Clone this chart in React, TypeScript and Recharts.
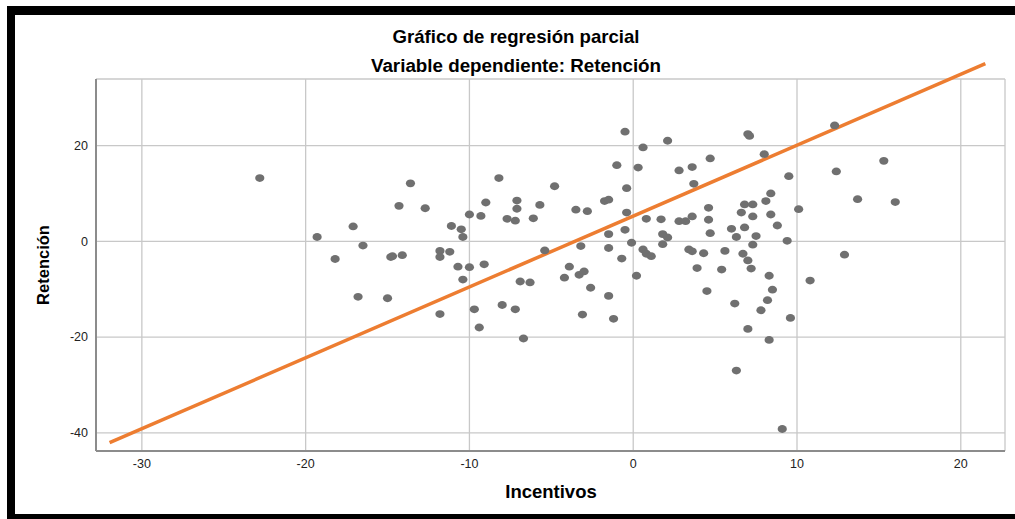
import { ScatterChart, Scatter, XAxis, YAxis, CartesianGrid, ReferenceLine } from 'recharts';

// Incentivos (x) and Retención (y) partial residuals
const incentivos = [
  -22.8, -19.3, -17.1, -16.5, -18.2, -14.8, -16.8, -15.0, -13.6, -14.3,
  -12.7, -11.1, -10.5, -10.4, -10.0, -9.3, -9.0, -8.2, -7.7, -7.2,
  -7.1, -7.1, -6.1, -5.7, -4.8, -3.5, -2.8, -1.75, -1.5, -1.0,
  -0.5, -0.4, -0.4, -0.5, -1.5, -0.1, 0.6, 0.3, 2.1, 2.8,
  0.8, 1.7, 2.8, 1.8, 2.1, 1.8, -0.7, -1.5, -3.2, -5.4,
  0.6, 0.8, 1.1, -14.7, -14.1, -11.8, -11.2, -11.8, -10.7, -10.0,
  -9.1, -10.4, -11.8, -9.7, -9.4, -8.0, -7.2, -6.7, -6.9, -6.3,
  -3.9, -4.2, -3.3, -3.0, -2.6, -3.1, -1.5, -1.2, 0.2, 7.0,
  7.1, 12.3, 8.0, 4.7, 15.3, 12.4, 3.6, 3.7, 9.5, 13.7,
  16.0, 8.4, 8.1, 6.8, 7.3, 4.6, 6.6, 7.3, 8.4, 10.1,
  3.2, 3.6, 4.6, 8.8, 4.7, 6.0, 6.8, 6.3, 7.5, 9.4,
  7.3, 3.4, 3.6, 4.3, 5.6, 6.7, 7.0, 12.9, 3.9, 5.4,
  7.2, 8.3, 10.8, 4.5, 8.5, 8.2, 6.2, 7.8, 9.6, 7.0,
  8.3, 6.3, 9.1,
];

const retencion = [
  13.2, 0.9, 3.1, -0.9, -3.7, -3.3, -11.6, -11.9, 12.1, 7.4,
  6.9, 3.2, 2.5, 0.9, 5.6, 5.3, 8.1, 13.2, 4.7, 4.3,
  8.5, 6.8, 4.8, 7.6, 11.5, 6.6, 6.3, 8.4, 8.7, 15.9,
  22.9, 11.1, 6.0, 2.4, 1.5, -0.3, 19.6, 15.4, 21.0, 14.8,
  4.7, 4.6, 4.2, 1.5, 0.8, -0.6, -3.6, -1.4, -1.0, -1.9,
  -1.7, -2.6, -3.1, -3.1, -2.9, -2.0, -2.2, -3.3, -5.3, -5.4,
  -4.8, -8.0, -15.2, -14.2, -18.0, -13.3, -14.2, -20.3, -8.4, -8.6,
  -5.3, -7.6, -7.0, -6.3, -9.7, -15.3, -11.4, -16.2, -7.2, 22.4,
  22.0, 24.2, 18.2, 17.3, 16.8, 14.6, 15.5, 12.0, 13.6, 8.8,
  8.2, 10.0, 8.4, 7.7, 7.7, 7.0, 6.0, 5.2, 5.6, 6.7,
  4.2, 5.2, 4.5, 3.3, 1.7, 2.6, 2.9, 0.9, 1.1, 0.1,
  -0.7, -1.7, -2.1, -2.5, -2.0, -2.6, -4.0, -2.8, -5.6, -5.9,
  -5.7, -7.2, -8.2, -10.4, -10.1, -12.3, -13.0, -14.4, -16.0, -18.3,
  -20.6, -27.0, -39.2,
];

// fit line end points as drawn
const fitStart = { x: -31.97, y: -42.07 };
const fitEnd = { x: 21.5, y: 37.1 };

const xTicks = [-30, -20, -10, 0, 10, 20];
const yTicks = [-40, -20, 0, 20];

const points = incentivos.map((x, i) => ({ x, y: retencion[i] }));

const font = '"Liberation Sans", Arial, sans-serif';

const Dot = (props: any) => {
  const { cx, cy } = props;
  if (cx == null || cy == null) return null;
  return <ellipse cx={cx} cy={cy} rx={4.6} ry={3.9} fill="#707070" />;
};

export default function App() {
  return (
    <div style={{ position: 'absolute', left: 0, top: 0, width: 1015, height: 519, background: '#fff', fontFamily: font, overflow: 'hidden' }}>
      {/* frame */}
      <div style={{ position: 'absolute', left: 7, top: 6, width: 1008, height: 9, background: '#000' }} />
      <div style={{ position: 'absolute', left: 7, top: 6, width: 8, height: 513, background: '#000' }} />
      <div style={{ position: 'absolute', left: 7, top: 514, width: 1008, height: 5, background: '#000' }} />

      <div style={{ position: 'absolute', left: 0, top: 0 }}>
        <ScatterChart width={1015} height={519} margin={{ top: 79, right: 10, bottom: 38, left: 36 }}>
          <CartesianGrid stroke="#c8c8c8" strokeWidth={1.3} />
          <XAxis
            type="number"
            dataKey="x"
            domain={[-32.8, 22.7]}
            ticks={xTicks}
            allowDataOverflow
            height={30}
            tickLine={false}
            axisLine={{ stroke: '#8c8c8c', strokeWidth: 2 }}
            tick={{ fill: '#222', fontSize: 12.5, fontFamily: font }}
          />
          <YAxis
            type="number"
            dataKey="y"
            domain={[-43.8, 33.9]}
            ticks={yTicks}
            allowDataOverflow
            width={60}
            tickLine={false}
            axisLine={{ stroke: '#8c8c8c', strokeWidth: 2 }}
            tick={{ fill: '#222', fontSize: 12.5, fontFamily: font }}
          />
          <Scatter data={points} shape={Dot} isAnimationActive={false} />
          <ReferenceLine
            segment={[fitStart, fitEnd]}
            stroke="#ed7d31"
            strokeWidth={3.5}
            ifOverflow="visible"
          />
        </ScatterChart>
      </div>

      <div style={{ position: 'absolute', left: 216, width: 600, top: 26, textAlign: 'center', fontSize: 18.6, fontWeight: 'bold', color: '#000' }}>
        Gráfico de regresión parcial
      </div>
      <div style={{ position: 'absolute', left: 216, width: 600, top: 55, textAlign: 'center', fontSize: 18.8, fontWeight: 'bold', color: '#000' }}>
        Variable dependiente: Retención
      </div>
      <div style={{ position: 'absolute', left: 451, width: 200, top: 481, textAlign: 'center', fontSize: 18.5, fontWeight: 'bold', color: '#000' }}>
        Incentivos
      </div>
      <div style={{ position: 'absolute', left: 43, top: 265, transform: 'translate(-50%, -50%) rotate(-90deg)', whiteSpace: 'nowrap', fontSize: 16.5, fontWeight: 'bold', color: '#000' }}>
        Retención
      </div>
    </div>
  );
}
